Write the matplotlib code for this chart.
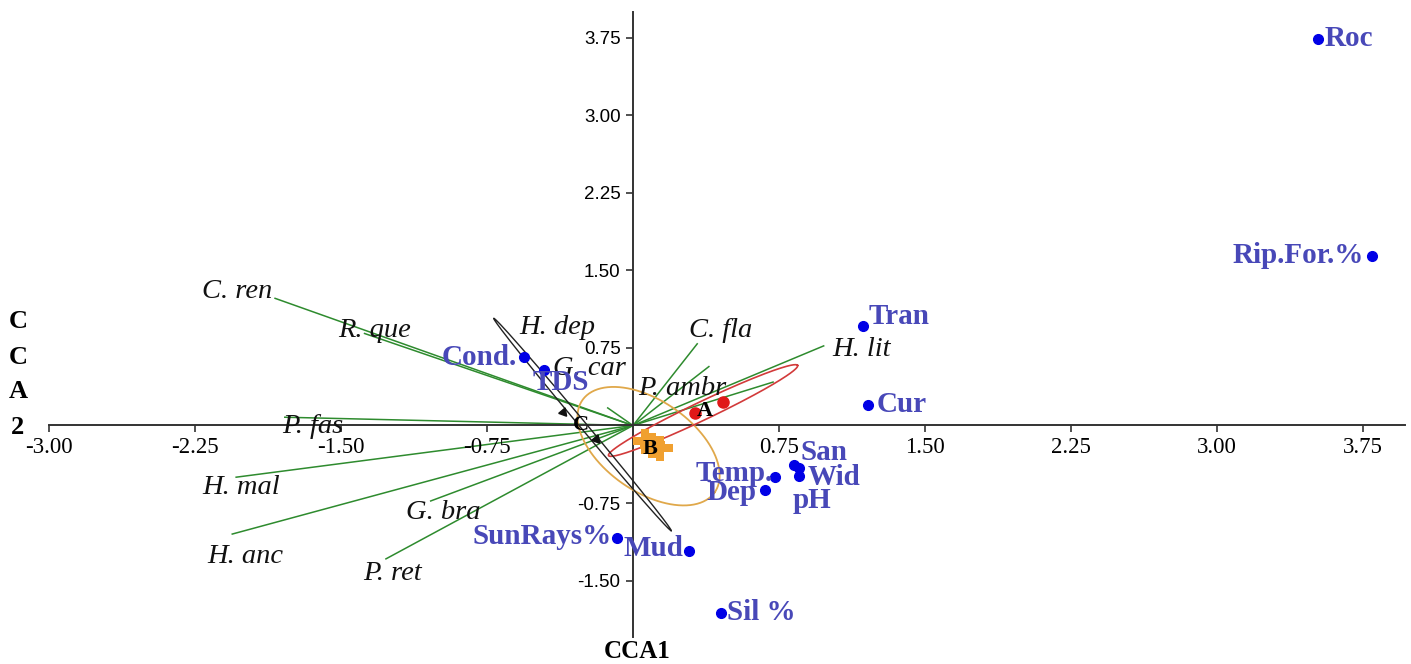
import numpy as np
import matplotlib
matplotlib.use('Agg')
import matplotlib.pyplot as plt
from matplotlib.ticker import FixedLocator, FormatStrFormatter

#------------------------------------------------------------------------
# D A T A   (CCA scores)
#------------------------------------------------------------------------

species       = ['C. ren', 'R. que', 'H. dep', 'C. fla', 'G. car', 'P. ambr',
                 'H. lit', 'P. fas', 'H. mal', 'H. anc', 'G. bra', 'P. ret']
species_x     = [-1.84, -1.38, -0.13, 0.33, 0.39, 0.72, 0.98, -1.79, -2.04, -2.06, -1.04, -1.27]
species_y     = [1.23, 0.89, 0.17, 0.79, 0.57, 0.42, 0.77, 0.08, -0.50, -1.05, -0.73, -1.29]

env_vars      = ['Roc', 'Rip.For.%', 'Tran', 'Cur', 'Cond.', 'TDS', 'San', 'Wid',
                 'pH', 'Temp.', 'Dep', 'Mud', 'Sil %', 'SunRays%']
env_x         = [3.52, 3.80, 1.18, 1.21, -0.56, -0.46, 0.83, 0.855, 0.855, 0.73, 0.68, 0.29, 0.45, -0.08]
env_y         = [3.74, 1.64, 0.96, 0.20, 0.66, 0.54, -0.38, -0.41, -0.49, -0.50, -0.62, -1.21, -1.81, -1.09]

groupA_x      = [0.32, 0.46]
groupA_y      = [0.12, 0.23]
groupB_x      = [0.06, 0.14, 0.10]
groupB_y      = [-0.15, -0.22, -0.19]
groupC_x      = [-0.36, -0.19]
groupC_y      = [0.13, -0.13]

# confidence ellipses: centre, half major axis vector, half minor axis vector
ellA = ((0.36, 0.145), (0.486, 0.436), (0.02, -0.08))
ellB = ((0.08, -0.20), (0.34, -0.446), (-0.134, -0.36))
ellC = ((-0.26, 0.01), (0.456, -1.027), (0.013, 0.02))

xticks = [-3.00, -2.25, -1.50, -0.75, 0.75, 1.50, 2.25, 3.00, 3.75]
yticks = [-1.50, -0.75, 0.75, 1.50, 2.25, 3.00, 3.75]

#------------------------------------------------------------------------
# L A B E L   L A Y O U T   (offsets in pixels)
#------------------------------------------------------------------------

sp_offset = {'C. ren': (-38, 7), 'R. que': (10, 3), 'H. dep': (-50, 80),
             'C. fla': (23, 13), 'G. car': (-119, -2), 'P. ambr': (-91, -6),
             'H. lit': (38, -4), 'P. fas': (28, -9), 'H. mal': (5, -10),
             'H. anc': (13, -22), 'G. bra': (13, -12), 'P. ret': (7, -15)}

env_offset = {'Roc': (7, 0, 'left'), 'Rip.For.%': (-8, 0, 'right'),
              'Tran': (6, 10, 'left'), 'Cur': (8, 0, 'left'),
              'Cond.': (-7, 0, 'right'), 'TDS': (-11, -13, 'left'),
              'San': (6, 12, 'left'), 'Wid': (8, -10, 'left'),
              'pH': (13, -24, 'center'), 'Temp.': (-2, 4, 'right'),
              'Dep': (-9, -3, 'right'), 'Mud': (-6, 2, 'right'),
              'Sil %': (6, 0, 'left'), 'SunRays%': (-6, 2, 'right')}

SERIF = ['Liberation Serif', 'DejaVu Serif']


def ellipse_pts(ell, n=200):
    c, u, v = ell
    t = np.linspace(0, 2*np.pi, n)
    return (c[0] + np.cos(t)*u[0] + np.sin(t)*v[0],
            c[1] + np.cos(t)*u[1] + np.sin(t)*v[1])


def main():
    fig = plt.figure(figsize=(14.11, 6.64), dpi=100)
    ax = fig.add_axes([0.035, 0.040, 0.961, 0.942])
    ax.set_xlim(-3.0, 3.97)
    ax.set_ylim(-2.05, 4.0)

    # ----- axes through the origin
    for s in ['top', 'right']:
        ax.spines[s].set_visible(False)
    ax.spines['left'].set_position(('data', 0))
    ax.spines['bottom'].set_position(('data', 0))
    for s in ['left', 'bottom']:
        ax.spines[s].set_color('#333333')
        ax.spines[s].set_linewidth(1.4)
    ax.xaxis.set_zorder(3)
    ax.yaxis.set_zorder(3)
    ax.xaxis.set_major_locator(FixedLocator(xticks))
    ax.yaxis.set_major_locator(FixedLocator(yticks))
    ax.xaxis.set_major_formatter(FormatStrFormatter('%.2f'))
    ax.yaxis.set_major_formatter(FormatStrFormatter('%.2f'))
    ax.tick_params(axis='both', direction='out', length=5, width=1.2,
                   color='#333333', pad=4)
    ax.tick_params(axis='x', labelsize=16.5, pad=3)
    ax.tick_params(axis='y', labelsize=13.5)
    for lab in ax.get_xticklabels():
        lab.set_family(SERIF)
    for lab in ax.get_yticklabels():
        lab.set_family(['Liberation Sans', 'DejaVu Sans'])

    # ----- species vectors
    for name, x, y in zip(species, species_x, species_y):
        ax.plot([0, x], [0, y], color='#2e8b2e', lw=1.1, zorder=2)
        dx, dy = sp_offset[name]
        ax.annotate(name, (x, y), xytext=(dx, dy), textcoords='offset pixels',
                    ha='center', va='center', fontsize=20.5, style='italic',
                    family=SERIF, color='#111111', zorder=5)

    # ----- group ellipses
    ex, ey = ellipse_pts(ellB)
    ax.plot(ex, ey, color='#e0a84a', lw=1.3, zorder=3)
    ex, ey = ellipse_pts(ellA)
    ax.plot(ex, ey, color='#d23a3a', lw=1.2, zorder=3)
    ex, ey = ellipse_pts(ellC)
    ax.plot(ex, ey, color='#222222', lw=1.0, zorder=3)

    # ----- group points
    ax.plot(groupA_x, groupA_y, 'o', color='#e01818', ms=8, zorder=4)
    ax.plot(groupB_x, groupB_y, 'P', color='#f0a030', ms=18, mew=0, zorder=4)
    ax.plot(groupC_x, groupC_y, marker=(3, 0, -140), ls='none', color='#111111', ms=7, zorder=4)
    ax.annotate('A', (groupA_x[0], groupA_y[0]), xytext=(10, 2), textcoords='offset pixels',
                ha='center', va='center', fontsize=16, weight='bold', family=SERIF, zorder=6)
    ax.annotate('B', (groupB_x[0], groupB_y[0]), xytext=(5, -8), textcoords='offset pixels',
                ha='center', va='center', fontsize=16, weight='bold', family=SERIF, zorder=6)
    ax.annotate('C', (groupC_x[0], groupC_y[0]), xytext=(18, -13), textcoords='offset pixels',
                ha='center', va='center', fontsize=16, weight='bold', family=SERIF, zorder=6)

    # ----- environmental variables
    ax.plot(env_x, env_y, 'o', color='#0000e6', ms=7, zorder=5)
    for name, x, y in zip(env_vars, env_x, env_y):
        dx, dy, ha = env_offset[name]
        ax.annotate(name, (x, y), xytext=(dx, dy), textcoords='offset pixels',
                    ha=ha, va='center', fontsize=21, weight='bold',
                    family=SERIF, color='#4848b8', zorder=6)

    # ----- axis titles
    fig.text(637/1411, 1 - 652/664, 'CCA1', ha='center', va='center',
             fontsize=18, weight='bold', family=SERIF)
    for i, ch in enumerate('CCA2'):
        fig.text(18/1411, 1 - (322 + 35*i)/664, ch, ha='center', va='center',
                 fontsize=19, weight='bold', family=SERIF)

    plt.savefig('out.png', dpi=100)


if __name__ == '__main__':
    main()
